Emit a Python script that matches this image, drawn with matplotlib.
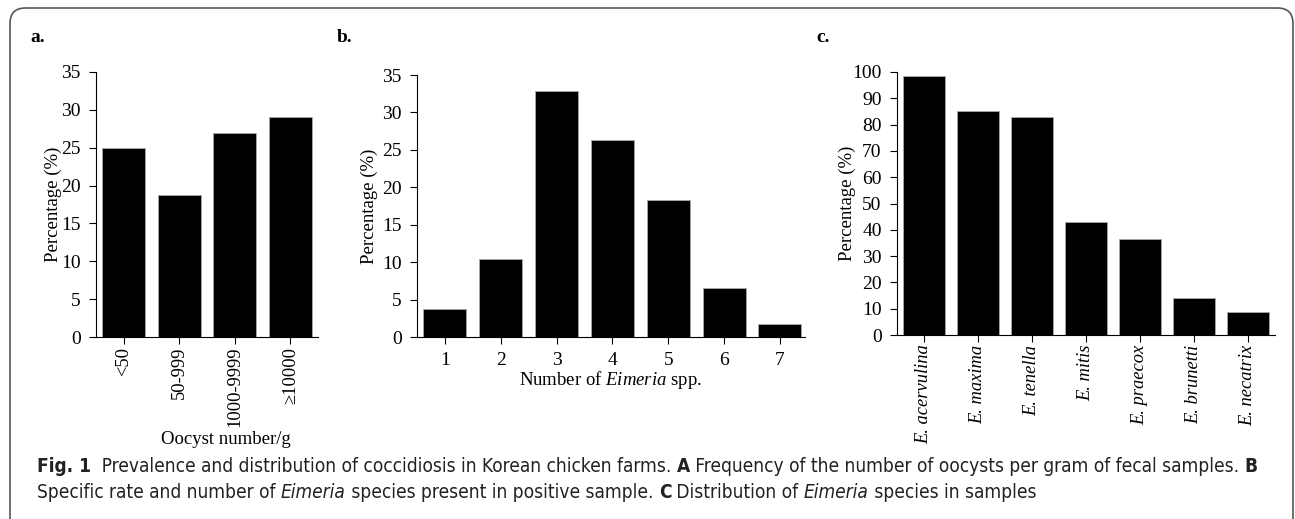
import matplotlib
matplotlib.use('Agg')
from matplotlib import pyplot as plt
from matplotlib.patches import FancyBboxPatch

plt.rcParams['font.family'] = ['Liberation Serif', 'DejaVu Serif']
plt.rcParams['mathtext.fontset'] = 'custom'
plt.rcParams['mathtext.rm'] = 'Liberation Serif'
plt.rcParams['mathtext.it'] = 'Liberation Serif:italic'

# panel a: oocysts per gram
oocyst_labels = ['<50', '50-999', '1000-9999', '\u226510000']
oocyst_pct = [25.0, 18.8, 27.0, 29.1]

# panel b: number of Eimeria species per sample
species_count = ['1', '2', '3', '4', '5', '6', '7']
species_count_pct = [3.8, 10.4, 32.9, 26.3, 18.3, 6.6, 1.7]

# panel c: Eimeria species distribution
species_names = ['E. acervulina', 'E. maxima', 'E. tenella', 'E. mitis',
                 'E. praecox', 'E. brunetti', 'E. necatrix']
species_pct = [98.5, 85.0, 82.8, 43.0, 36.5, 14.0, 8.8]

W, H = 1295, 519
fig = plt.figure(figsize=(W / 100, H / 100), dpi=100)

# rounded frame
frame = FancyBboxPatch((10 / W, -20 / H), 1283 / W, 531 / H,
                       boxstyle='round,pad=0,rounding_size=0.012',
                       transform=fig.transFigure, fill=False,
                       edgecolor='#555555', linewidth=1.2, mutation_aspect=W / H)
fig.patches.append(frame)

FS = 13.5
TS = 14


def box(l, t, r, b):
    return [l / W, 1 - b / H, (r - l) / W, (b - t) / H]


def style(ax, ymax, step, ylab_x):
    ax.spines['top'].set_visible(False)
    ax.spines['right'].set_visible(False)
    ax.set_ylim(0, ymax)
    ax.set_yticks(range(0, ymax + 1, step))
    ax.tick_params(axis='both', labelsize=TS, direction='out', length=5, width=0.8, pad=6)
    ax.set_ylabel('Percentage (%)', fontsize=FS)
    ax.yaxis.set_label_coords(ylab_x, 0.5)


ax1 = fig.add_axes(box(96, 72, 318, 337))
ax1.bar(range(len(oocyst_pct)), oocyst_pct, width=0.77, color='black',
        edgecolor='#aaaaaa', linewidth=0.6)
ax1.set_xlim(-0.5, 3.5)
style(ax1, 35, 5, (62 - 96) / 222)
ax1.set_xticks(range(len(oocyst_labels)))
ax1.set_xticklabels(oocyst_labels, rotation=90)
ax1.tick_params(axis='x', labelsize=13.3, pad=2)
ax1.set_xlabel('Oocyst number/g', fontsize=FS)
ax1.xaxis.set_label_coords((226 - 96) / 222, -(431 - 337) / 265)

ax2 = fig.add_axes(box(417, 75, 805, 337))
ax2.bar(range(len(species_count_pct)), species_count_pct, width=0.77, color='black',
        edgecolor='#aaaaaa', linewidth=0.6)
ax2.set_xlim(-0.5, 6.45)
style(ax2, 35, 5, (378 - 417) / 388)
ax2.set_xticks(range(len(species_count)))
ax2.set_xticklabels(species_count)
ax2.set_xlabel('Number of $\\mathit{Eimeria}$ spp.', fontsize=FS)
ax2.xaxis.set_label_coords(0.5, -(369 - 337) / 262)

ax3 = fig.add_axes(box(897, 72, 1275, 335))
ax3.bar(range(len(species_pct)), species_pct, width=0.78, color='black',
        edgecolor='#aaaaaa', linewidth=0.6)
ax3.set_xlim(-0.5, 6.5)
style(ax3, 100, 10, (856 - 897) / 378)
ax3.set_xticks(range(len(species_names)))
ax3.set_xticklabels(species_names, rotation=90, style='italic')
ax3.tick_params(axis='x', labelsize=13.3, pad=2)

# panel letters
for x, s in [(30, 'a.'), (337, 'b.'), (816, 'c.')]:
    fig.text(x / W, 1 - 37 / H, s, fontsize=14, fontweight='bold', va='center')

# caption, written in pieces so bold and italic parts can be mixed
lines = [
    [('Fig. 1', 'bold', 'normal'),
     ('  Prevalence and distribution of coccidiosis in Korean chicken farms. ', 'normal', 'normal'),
     ('A', 'bold', 'normal'),
     (' Frequency of the number of oocysts per gram of fecal samples. ', 'normal', 'normal'),
     ('B', 'bold', 'normal')],
    [('Specific rate and number of ', 'normal', 'normal'),
     ('Eimeria', 'normal', 'italic'),
     (' species present in positive sample. ', 'normal', 'normal'),
     ('C', 'bold', 'normal'),
     (' Distribution of ', 'normal', 'normal'),
     ('Eimeria', 'normal', 'italic'),
     (' species in samples', 'normal', 'normal')],
]
renderer = fig.canvas.get_renderer()
for y, pieces in zip([467, 492], lines):
    x = 37
    for s, w, st in pieces:
        t = fig.text(x / W, 1 - y / H, s, fontsize=13.7, family='DejaVu Sans',
                     stretch='condensed', fontweight=w, style=st, va='center',
                     color='#222222')
        bb = t.get_window_extent(renderer)
        x += bb.width

fig.savefig('out.png', dpi=100)
